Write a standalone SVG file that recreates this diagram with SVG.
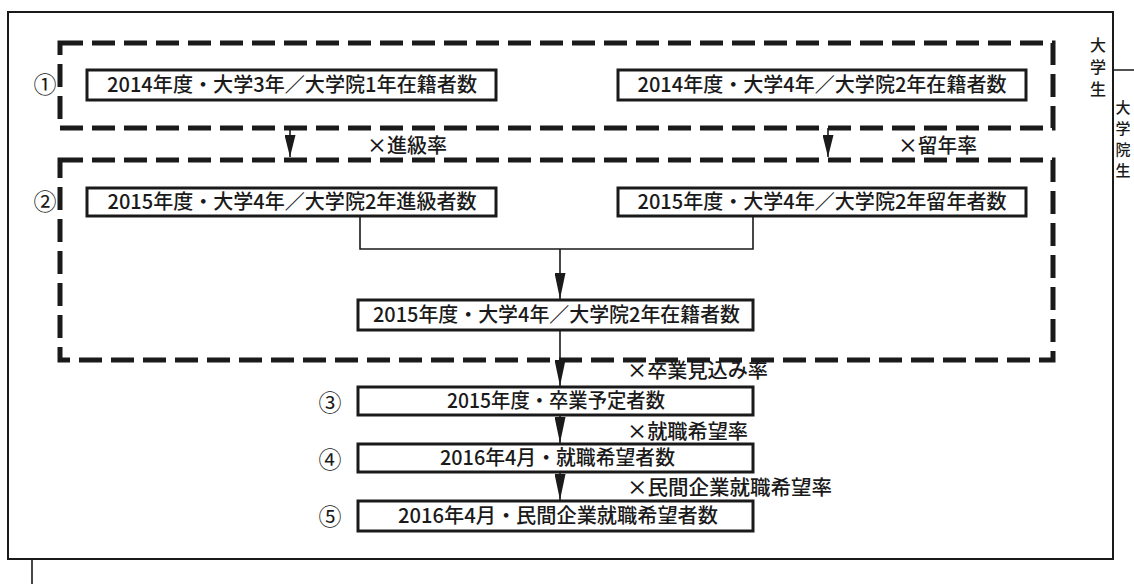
<svg xmlns="http://www.w3.org/2000/svg" width="1134" height="584" viewBox="0 0 1134 584">
  <style>
    text { font-family: "Noto Sans CJK JP", "Liberation Sans", sans-serif; fill: #1a1a1a; }
    .nt { font-size: 20px; text-anchor: middle; font-weight: 500; }
    .lb { font-size: 20px; font-weight: 500; }
    .num { font-size: 23px; text-anchor: middle; }
    .vt { font-size: 16px; font-weight: 500; writing-mode: vertical-rl; letter-spacing: 6px; }
    .vt2 { font-size: 15px; font-weight: 500; writing-mode: vertical-rl; letter-spacing: 6px; }
    .box { fill: #ffffff; stroke: #1a1a1a; stroke-width: 3; }
    .dash { fill: none; stroke: #1a1a1a; stroke-width: 5; stroke-dasharray: 23 9; }
    .frame { fill: #ffffff; stroke: #1a1a1a; stroke-width: 2; }
    .conn { fill: none; stroke: #1a1a1a; stroke-width: 1.6; }
  </style>
  <defs>
    <marker id="ah" markerUnits="userSpaceOnUse" viewBox="0 0 26 11" markerWidth="26" markerHeight="11" refX="26" refY="5.5" orient="auto">
      <path d="M0,0 L26,5.5 L0,11 z" fill="#1a1a1a"/>
    </marker>
    <marker id="ahs" markerUnits="userSpaceOnUse" viewBox="0 0 22 11" markerWidth="22" markerHeight="11" refX="22" refY="5.5" orient="auto">
      <path d="M0,0 L22,5.5 L0,11 z" fill="#1a1a1a"/>
    </marker>
  </defs>
  <rect width="1134" height="584" fill="#ffffff"/>

  <!-- graduate frame (behind) -->
  <g id="frame-grad">
    <path class="conn" d="M32,600 V70 H1140" stroke-width="2"/>
    <text class="vt2" x="1123" y="100">大学院生</text>
  </g>

  <!-- undergraduate frame -->
  <g id="frame-ug">
    <rect class="frame" x="8" y="12" width="1105" height="547"/>
    <text class="vt" x="1098" y="37">大学生</text>
  </g>

  <!-- dashed groups -->
  <g id="group1">
    <path class="dash" d="M60,43 H1053 V128 H60 Z"/>
    <text class="num" x="45" y="93">①</text>
  </g>
  <g id="group2">
    <path class="dash" d="M60,160 H1053 V360 H60 Z"/>
    <text class="num" x="45" y="210">②</text>
  </g>

  <!-- connectors -->
  <g id="connectors">
    <line class="conn" x1="290" y1="128" x2="290" y2="157" marker-end="url(#ahs)"/>
    <line class="conn" x1="828" y1="128" x2="828" y2="157" marker-end="url(#ahs)"/>
    <path class="conn" d="M360,216 V249 H753 V216"/>
    <line class="conn" x1="560" y1="249" x2="560" y2="299" marker-end="url(#ah)"/>
    <line class="conn" x1="560" y1="330" x2="560" y2="386" marker-end="url(#ah)"/>
    <line class="conn" x1="560" y1="415" x2="560" y2="443" marker-end="url(#ah)"/>
    <line class="conn" x1="560" y1="472" x2="560" y2="500" marker-end="url(#ah)"/>
  </g>

  <!-- rate labels -->
  <g id="labels">
    <text class="lb" x="367" y="153" textLength="80" lengthAdjust="spacingAndGlyphs">×進級率</text>
    <text class="lb" x="898" y="153" textLength="79" lengthAdjust="spacingAndGlyphs">×留年率</text>
    <text class="lb" x="627" y="378" textLength="141" lengthAdjust="spacingAndGlyphs">×卒業見込み率</text>
    <text class="lb" x="627" y="439" textLength="121" lengthAdjust="spacingAndGlyphs">×就職希望率</text>
    <text class="lb" x="627" y="495" textLength="205" lengthAdjust="spacingAndGlyphs">×民間企業就職希望率</text>
  </g>

  <!-- nodes -->
  <g id="n1a">
    <rect class="box" x="87" y="70" width="409" height="30"/>
    <text class="nt" x="292" y="92" textLength="370" lengthAdjust="spacingAndGlyphs">2014年度・大学3年／大学院1年在籍者数</text>
  </g>
  <g id="n1b">
    <rect class="box" x="618" y="70" width="408" height="30"/>
    <text class="nt" x="822" y="92" textLength="369" lengthAdjust="spacingAndGlyphs">2014年度・大学4年／大学院2年在籍者数</text>
  </g>
  <g id="n2a">
    <rect class="box" x="87" y="188" width="409" height="28"/>
    <text class="nt" x="292" y="209" textLength="369" lengthAdjust="spacingAndGlyphs">2015年度・大学4年／大学院2年進級者数</text>
  </g>
  <g id="n2b">
    <rect class="box" x="618" y="188" width="408" height="28"/>
    <text class="nt" x="822" y="209" textLength="369" lengthAdjust="spacingAndGlyphs">2015年度・大学4年／大学院2年留年者数</text>
  </g>
  <g id="n2c">
    <rect class="box" x="358" y="300" width="395" height="30"/>
    <text class="nt" x="556.5" y="322" textLength="367" lengthAdjust="spacingAndGlyphs">2015年度・大学4年／大学院2年在籍者数</text>
  </g>
  <g id="n3">
    <rect class="box" x="358" y="387" width="395" height="28"/>
    <text class="nt" x="556" y="408" textLength="218" lengthAdjust="spacingAndGlyphs">2015年度・卒業予定者数</text>
    <text class="num" x="330" y="411">③</text>
  </g>
  <g id="n4">
    <rect class="box" x="358" y="444" width="395" height="28"/>
    <text class="nt" x="557.5" y="465" textLength="235" lengthAdjust="spacingAndGlyphs">2016年4月・就職希望者数</text>
    <text class="num" x="330" y="468">④</text>
  </g>
  <g id="n5">
    <rect class="box" x="358" y="501" width="395" height="30"/>
    <text class="nt" x="558" y="523" textLength="320" lengthAdjust="spacingAndGlyphs">2016年4月・民間企業就職希望者数</text>
    <text class="num" x="330" y="525">⑤</text>
  </g>
</svg>
